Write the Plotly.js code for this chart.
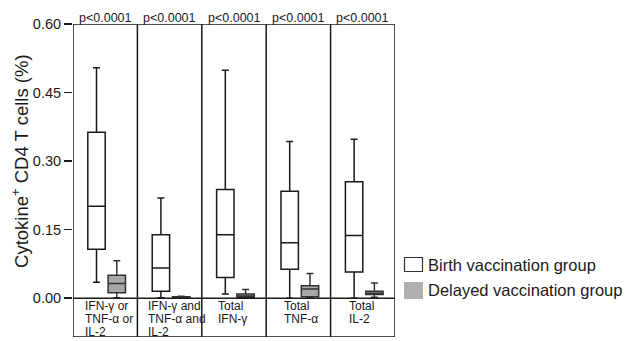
<!DOCTYPE html>
<html>
<head>
<meta charset="utf-8">
<script src="https://cdn.plot.ly/plotly-3.0.1.min.js"></script>
<style>html,body{margin:0;padding:0;background:#fff;}#chart{width:627px;height:341px;}</style>
</head>
<body>
<div id="chart"></div>
<script>
// ---- data ----
const categories = ['IFN-γ or<br>TNF-α or<br>IL-2', 'IFN-γ and<br>TNF-α and<br>IL-2', 'Total<br>IFN-γ', 'Total<br>TNF-α', 'Total<br>IL-2'];
const pValues = ['p<0.0001', 'p<0.0001', 'p<0.0001', 'p<0.0001', 'p<0.0001'];
const seriesNames = ['Birth vaccination group', 'Delayed vaccination group'];
const yTicks = [0, 0.15, 0.30, 0.45, 0.60];
const yTickLabels = ['0.00', '0.15', '0.30', '0.45', '0.60'];

const birthUpper  = [0.504, 0.219, 0.499, 0.343, 0.348];
const birthQ3     = [0.363, 0.139, 0.238, 0.234, 0.255];
const birthMedian = [0.201, 0.066, 0.139, 0.121, 0.137];
const birthQ1     = [0.107, 0.015, 0.045, 0.063, 0.057];
const birthLower  = [0.035, 0.001, 0.009, 0.000, 0.000];

const delayedUpper  = [0.082, 0.004, 0.019, 0.054, 0.033];
const delayedQ3     = [0.050, 0.003, 0.009, 0.027, 0.015];
const delayedMedian = [0.032, 0.002, 0.005, 0.020, 0.011];
const delayedQ1     = [0.012, 0.001, 0.002, 0.003, 0.008];
const delayedLower  = [0.001, 0.000, 0.000, 0.000, 0.002];

// ---- layout constants ----
const W = 627, H = 341, M = {l: 73, r: 232, t: 24, b: 4};
const plotW = W - M.l - M.r, plotH = H - M.t - M.b;
const px = v => (v - M.l) / plotW;          // pixel x -> paper x
const py = v => (H - M.b - v) / plotH;      // pixel y -> paper y

const birthOffset = 0.365, delayedOffset = 0.68, boxW = 0.27;
const labelIndent = [0.15, 0.13, 0.225, 0.24, 0.255];
const lineStep = 13;
const yBottom = -0.085, yTop = 0.60;
const ink = '#1a1a1a';
const grayFill = '#a8a8a8';
const FONT = 'Liberation Sans, Arial, Helvetica, sans-serif';

const idx = categories.map((_, i) => i);

const traces = [
  {
    type: 'box', name: seriesNames[0],
    x: idx.map(i => i + birthOffset),
    q1: birthQ1, median: birthMedian, q3: birthQ3,
    lowerfence: birthLower, upperfence: birthUpper,
    width: boxW, whiskerwidth: 0.4, boxpoints: false,
    fillcolor: '#ffffff', line: {color: ink, width: 1.5},
    hoverinfo: 'skip'
  },
  {
    type: 'box', name: seriesNames[1],
    x: idx.map(i => i + delayedOffset),
    q1: delayedQ1, median: delayedMedian, q3: delayedQ3,
    lowerfence: delayedLower, upperfence: delayedUpper,
    width: boxW, whiskerwidth: 0.4, boxpoints: false,
    fillcolor: grayFill, line: {color: '#333333', width: 1.5},
    hoverinfo: 'skip'
  }
];

const shapes = [
  {type: 'rect', xref: 'x', yref: 'y', x0: 0, x1: categories.length, y0: yBottom, y1: yTop,
   line: {color: ink, width: 1.5}},
  {type: 'line', xref: 'x', yref: 'y', x0: 0, x1: categories.length, y0: 0, y1: 0,
   line: {color: ink, width: 1.5}}
];
for (let i = 1; i < categories.length; i++) {
  shapes.push({type: 'line', xref: 'x', yref: 'y', x0: i, x1: i, y0: yBottom, y1: yTop,
               line: {color: ink, width: 1.5}});
}

// manual legend (keys)
shapes.push({type: 'rect', xref: 'paper', yref: 'paper',
             x0: px(404.5), x1: px(422.5), y0: py(271.5), y1: py(257.5),
             fillcolor: '#ffffff', line: {color: '#333333', width: 1.2}});
shapes.push({type: 'rect', xref: 'paper', yref: 'paper',
             x0: px(404), x1: px(423), y0: py(299), y1: py(282),
             fillcolor: '#b0b0b0', line: {width: 0}});

const annotations = [];
idx.forEach(i => {
  annotations.push({
    xref: 'x', yref: 'y', x: i + 0.5, y: yTop, yanchor: 'bottom', xanchor: 'center',
    text: pValues[i].replace('<', '&lt;'), showarrow: false, yshift: -3,
    font: {family: FONT, size: 12.5, color: ink}
  });
  categories[i].split('<br>').forEach((line, k) => {
    annotations.push({
      xref: 'x', yref: 'y', x: i + labelIndent[i], y: 0, yanchor: 'middle', xanchor: 'left',
      align: 'left', text: line, showarrow: false, yshift: -(8 + k * lineStep),
      font: {family: FONT, size: 12, color: ink}
    });
  });
});
annotations.push({
  xref: 'paper', yref: 'y', x: -0.165, y: 0.30, xanchor: 'center', yanchor: 'middle',
  textangle: -90, showarrow: false,
  text: 'Cytokine<sup>+</sup> CD4 T cells (%)',
  font: {family: FONT, size: 18.5, color: ink}
});
[264.5, 290].forEach((yc, k) => {
  annotations.push({
    xref: 'paper', yref: 'paper', x: px(426), y: py(yc), xanchor: 'left', yanchor: 'middle',
    text: seriesNames[k], showarrow: false,
    font: {family: FONT, size: 16.5, color: ink}
  });
});

const layout = {
  width: W, height: H,
  margin: M,
  paper_bgcolor: '#fff', plot_bgcolor: '#fff',
  showlegend: false,
  xaxis: {range: [0, categories.length], showgrid: false, zeroline: false,
          showticklabels: false, ticks: '', showline: false, fixedrange: true},
  yaxis: {range: [yBottom, yTop], showgrid: false, zeroline: false, showline: false,
          tickvals: yTicks, ticktext: yTickLabels, ticks: 'outside', ticklen: 8,
          tickwidth: 1.5, tickcolor: ink,
          tickfont: {family: FONT, size: 14.5, color: ink}, fixedrange: true},
  shapes: shapes,
  annotations: annotations
};

Plotly.newPlot('chart', traces, layout, {displayModeBar: false, staticPlot: true});
</script>
</body>
</html>
